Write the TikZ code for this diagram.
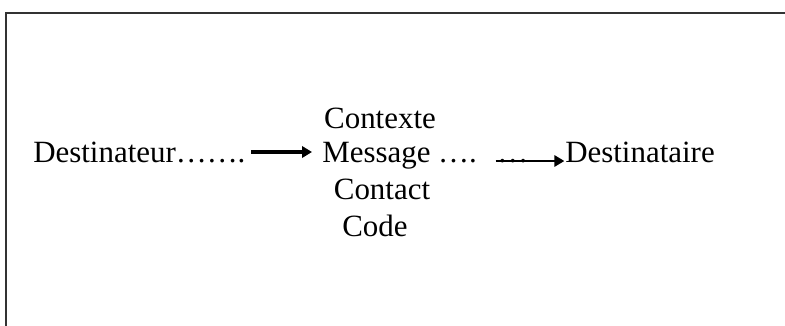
\documentclass[tikz,border=0pt]{standalone}
\usepackage{fontspec}
\setmainfont{Liberation Serif}
\usetikzlibrary{arrows.meta}
\begin{document}
\begin{tikzpicture}[x=0.75pt, y=-0.75pt,
    word/.style={inner sep=0pt, font=\fontsize{23.2pt}{26pt}\selectfont},
    flow/.style={-{Triangle[length=7.5pt, width=8.5pt]}}]
    \useasboundingbox (0,0) rectangle (785,325);
    % frame, only top and left sides show
    \draw[line width=1.6pt, black!80] (786,13) -- (6,13) -- (6,326);
    % sender
    \node[word, anchor=base west] (dest) at (33,162) {Destinateur…….};
    % the six functions column
    \node[word, anchor=base] (contexte) at (380,128) {Contexte};
    \node[word, anchor=base west] (message) at (322,162) {Message ….};
    \node[word, anchor=base west] (points) at (497,162) {…};
    \node[word, anchor=base] (contact) at (382,199) {Contact};
    \node[word, anchor=base] (code) at (375,236) {Code};
    % receiver
    \node[word, anchor=base west] (destinataire) at (565,162) {Destinataire};
    % arrows
    \draw[flow, line width=2.6pt] ([xshift=4pt]dest.east |- 0,152) -- ([xshift=-7.5pt]message.west |- 0,152);
    \draw[flow, line width=1.6pt] ([xshift=-1pt]points.west |- 0,161) -- ([xshift=-0.5pt]destinataire.west |- 0,161);
\end{tikzpicture}
\end{document}
